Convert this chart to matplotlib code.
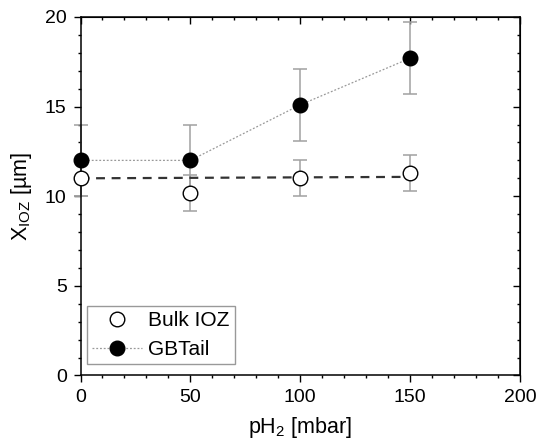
import numpy as np
import matplotlib
matplotlib.use("Agg")
import matplotlib.pyplot as plt
from matplotlib.ticker import MultipleLocator

plt.rcParams['font.family'] = ['Liberation Sans', 'DejaVu Sans']
plt.rcParams['mathtext.default'] = 'regular'

# data
ph2 = [0, 50, 100, 150]
bulk_ioz = [11.0, 10.2, 11.0, 11.3]
bulk_err = [1.0, 1.0, 1.0, 1.0]
gb_tail = [12.0, 12.0, 15.1, 17.7]
gb_err = [2.0, 2.0, 2.0, 2.0]
fit_x = [0, 150]
fit_y = [11.0, 11.08]

fig = plt.figure(figsize=(5.47, 4.4), dpi=100)
ax = fig.add_axes([0.1472, 0.1466, 0.8035, 0.8148])

err_color = '#a0a0a0'
ax.errorbar(ph2, bulk_ioz, yerr=bulk_err, fmt='none', ecolor=err_color,
            elinewidth=1.1, capsize=5, capthick=1.1, clip_on=False, zorder=2)
ax.errorbar(ph2, gb_tail, yerr=gb_err, fmt='none', ecolor=err_color,
            elinewidth=1.1, capsize=5, capthick=1.1, clip_on=False, zorder=2)

ax.plot(fit_x, fit_y, color='#333333', lw=1.6, dashes=(4, 3), zorder=3)

ax.plot(ph2, gb_tail, color='#999999', lw=0.9, ls=(0, (1.5, 1.5)), zorder=3)
ax.plot(ph2, bulk_ioz, ls='none', marker='o', ms=10.5, mfc='white',
        mec='black', mew=1.0, clip_on=False, zorder=4, label='Bulk IOZ')
ax.plot(ph2, gb_tail, ls='none', marker='o', ms=10.5, mfc='black',
        mec='black', clip_on=False, zorder=4)

# legend handles
h1, = ax.plot([], [], ls='none', marker='o', ms=10.5, mfc='white', mec='black', mew=1.0)
h2, = ax.plot([], [], color='#999999', lw=0.9, ls=(0, (1.5, 1.5)),
              marker='o', ms=10.5, mfc='black', mec='black')
leg = ax.legend([h1, h2], ['Bulk IOZ', 'GBTail'], loc='lower left',
                bbox_to_anchor=(0.0148, 0.0307), borderaxespad=0, fontsize=15,
                fancybox=False, edgecolor='#999999', framealpha=1,
                borderpad=0.25, handlelength=2.4, handletextpad=0.3,
                labelspacing=0.5)
leg.get_frame().set_linewidth(1.0)

ax.set_xlim(0, 200)
ax.set_ylim(0, 20)
ax.xaxis.set_major_locator(MultipleLocator(50))
ax.xaxis.set_minor_locator(MultipleLocator(10))
ax.yaxis.set_major_locator(MultipleLocator(5))
ax.yaxis.set_minor_locator(MultipleLocator(1))
ax.tick_params(which='both', direction='out', labelsize=14, width=1.0, pad=5)
ax.tick_params(which='major', length=5)
ax.tick_params(which='minor', length=2.5)
for s in ax.spines.values():
    s.set_linewidth(1.1)

# inward ticks on top and right
top = ax.secondary_xaxis('top')
top.xaxis.set_major_locator(MultipleLocator(50))
top.xaxis.set_minor_locator(MultipleLocator(10))
top.tick_params(which='both', direction='in', labeltop=False, width=1.0)
top.tick_params(which='major', length=5)
top.tick_params(which='minor', length=2.5)
right = ax.secondary_yaxis('right')
right.yaxis.set_major_locator(MultipleLocator(5))
right.yaxis.set_minor_locator(MultipleLocator(1))
right.tick_params(which='both', direction='in', labelright=False, width=1.0)
right.tick_params(which='major', length=5)
right.tick_params(which='minor', length=2.5)

ax.set_xlabel('pH$_2$ [mbar]', fontsize=15.5, labelpad=6)
ax.set_ylabel('X$_{IOZ}$ [µm]', fontsize=15.5, labelpad=8)

fig.savefig('out.png', dpi=100)
